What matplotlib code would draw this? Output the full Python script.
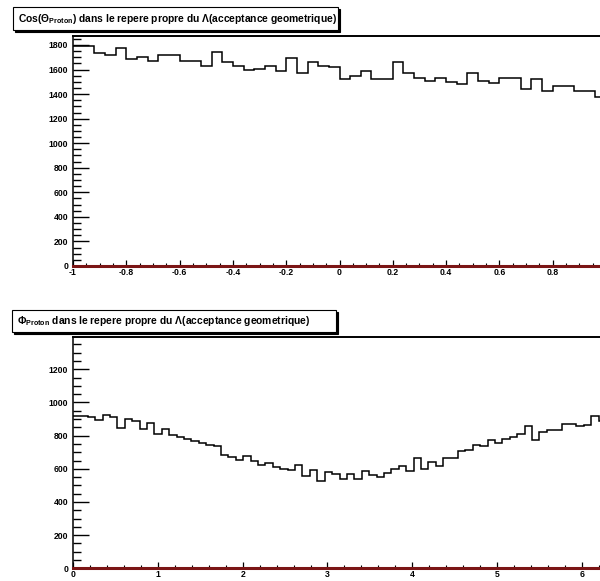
import numpy as np
import matplotlib
matplotlib.use("Agg")
import matplotlib.pyplot as plt
from matplotlib.patches import Rectangle
from matplotlib.ticker import MultipleLocator
from matplotlib import font_manager

# Histogramme cos(theta) : 50 bins entre -1 et 1
cos_edges = np.linspace(-1, 1, 51)
cos_counts = [1795, 1788, 1731, 1720, 1775, 1688, 1698, 1668, 1715, 1715,
              1671, 1671, 1630, 1742, 1660, 1630, 1598, 1606, 1628, 1584,
              1692, 1568, 1660, 1630, 1617, 1522, 1549, 1587, 1524, 1524,
              1660, 1571, 1535, 1508, 1535, 1497, 1484, 1568, 1503, 1489,
              1535, 1535, 1440, 1522, 1429, 1462, 1462, 1429, 1429, 1375]

# Histogramme phi : 72 bins entre 0 et 2pi
phi_edges = np.linspace(0, 2 * np.pi, 73)
phi_counts = [921, 918, 910, 897, 922, 912, 848, 900, 886, 838,
              878, 812, 838, 803, 793, 780, 765, 757, 745, 735,
              681, 671, 651, 677, 645, 621, 635, 611, 601, 591,
              621, 555, 591, 527, 581, 571, 541, 567, 541, 589,
              563, 553, 577, 597, 617, 587, 667, 597, 643, 617,
              663, 663, 707, 711, 745, 735, 771, 757, 781, 791,
              811, 861, 771, 821, 835, 835, 871, 871, 861, 867,
              917, 891]

titles = [r"Cos($\Theta_{\mathrm{Proton}}$) dans le repere propre du $\Lambda$(acceptance geometrique)",
          r"$\Phi_{\mathrm{Proton}}$ dans le repere propre du $\Lambda$(acceptance geometrique)"]

# police etroite si elle existe
names = {f.name for f in font_manager.fontManager.ttflist}
narrow = [n for n in ["Liberation Sans Narrow", "DejaVu Sans Condensed"] if n in names]
condensed = len(narrow) > 0
fonts = narrow + ["Liberation Sans", "DejaVu Sans"]
plt.rcParams["font.family"] = fonts
plt.rcParams["font.weight"] = "bold"
plt.rcParams["mathtext.fontset"] = "custom"
plt.rcParams["mathtext.rm"] = fonts[0]
plt.rcParams["mathtext.it"] = fonts[0] + ":italic"
plt.rcParams["mathtext.bf"] = fonts[0] + ":bold"

W, H = 600, 581
fig = plt.figure(figsize=(W / 100, H / 100), dpi=100)


def px_box(x0, y0, x1, y1):
    # pixels (origine en haut a gauche) -> fraction de figure
    return [x0 / W, 1 - y1 / H, (x1 - x0) / W, (y1 - y0) / H]


def title_box(x0, y0, x1, y1, text):
    l, b, w, h = px_box(x0 + 2, y0 + 2, x1 + 2, y1 + 2)
    fig.add_artist(Rectangle((l, b), w, h, transform=fig.transFigure,
                             fc="black", ec="black", lw=0.8))
    l, b, w, h = px_box(x0, y0, x1, y1)
    fig.add_artist(Rectangle((l, b), w, h, transform=fig.transFigure,
                             fc="white", ec="black", lw=0.8))
    fig.text((x0 + 5) / W, 1 - ((y0 + y1) / 2) / H, text,
             fontsize=9.3 if condensed else 7.4,
             fontweight="bold", va="center", ha="left")


def fmt(v, p):
    v = round(v, 6)
    if v > 0.99 and v < 1.01 and p is not None and v != int(v) or v == 1.0:
        return ""
    return f"{v:g}"


def setup_axes(ax, ymax, ymajor, xmajor, xminor, xlim):
    ax.set_xlim(*xlim)
    ax.set_ylim(0, ymax)
    ax.yaxis.set_major_locator(MultipleLocator(ymajor))
    ax.yaxis.set_minor_locator(MultipleLocator(ymajor / 4))
    ax.xaxis.set_major_locator(MultipleLocator(xmajor))
    ax.xaxis.set_minor_locator(MultipleLocator(xminor))
    ax.tick_params(axis="y", which="major", direction="in", length=11.5,
                   width=1.0, pad=3.5, labelsize=6.2, right=False)
    ax.tick_params(axis="y", which="minor", direction="in", length=5.8,
                   width=1.0, right=False)
    ax.tick_params(axis="x", which="major", direction="in", length=4.5,
                   width=0.9, pad=1.5, labelsize=6.2, top=False)
    ax.tick_params(axis="x", which="minor", direction="in", length=2.2,
                   width=0.8, top=False)
    ax.spines["right"].set_visible(False)
    ax.spines["top"].set_linewidth(1.4)
    ax.spines["left"].set_linewidth(1.1)
    ax.spines["bottom"].set_color("#7b1515")
    ax.spines["bottom"].set_linewidth(2.2)


# panneau du haut
ax1 = fig.add_axes(px_box(73, 36, 606, 266))
ax1.stairs(cos_counts, cos_edges, color="black", lw=1.1, baseline=None)
setup_axes(ax1, 1873, 200, 0.2, 0.05, (-1, 1))
ax1.xaxis.set_major_formatter(plt.FuncFormatter(
    lambda v, p: "" if round(v, 6) >= 1 else f"{round(v, 6):g}"))

# panneau du bas
ax2 = fig.add_axes(px_box(73, 337, 606, 568.3))
ax2.stairs(phi_counts, phi_edges, color="black", lw=1.1, baseline=None)
setup_axes(ax2, 1395, 200, 1, 0.2, (0, 2 * np.pi))

title_box(13, 7.5, 338, 30, titles[0])
title_box(12, 310, 336, 332, titles[1])

fig.savefig("out.png", dpi=100)
